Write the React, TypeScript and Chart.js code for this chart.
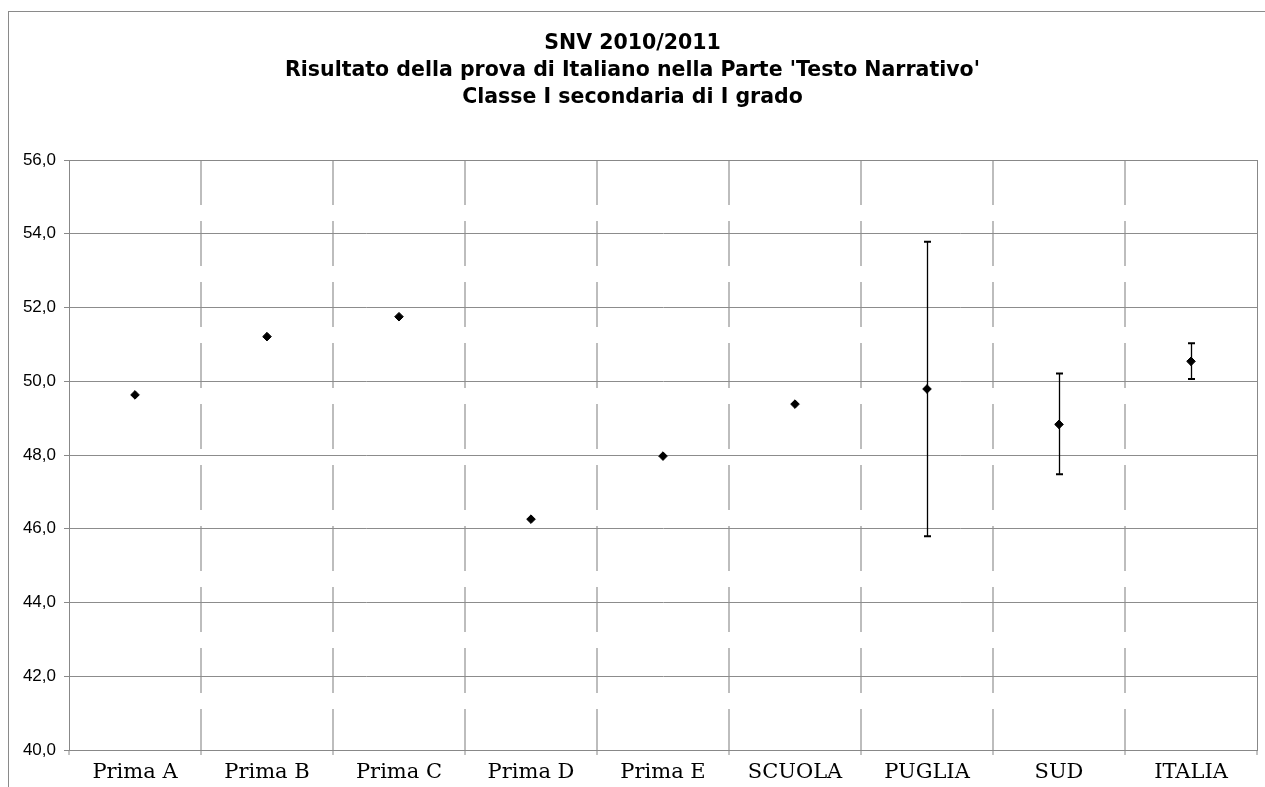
import React, { useEffect, useRef } from "react";
import { Chart, registerables } from "chart.js";

Chart.register(...registerables);

const categories = ["Prima A", "Prima B", "Prima C", "Prima D", "Prima E", "SCUOLA", "PUGLIA", "SUD", "ITALIA"];
const means = [49.63, 51.21, 51.75, 46.26, 47.97, 49.38, 49.79, 48.83, 50.54];
const errLow: (number | null)[] = [null, null, null, null, null, null, 45.8, 47.48, 50.06];
const errHigh: (number | null)[] = [null, null, null, null, null, null, 53.78, 50.21, 51.03];
const titleLines = [
  "SNV 2010/2011",
  "Risultato della prova di Italiano nella Parte 'Testo Narrativo'",
  "Classe I secondaria di I grado",
];
const yMin = 40;
const yMax = 56;
const yStep = 2;

const frameAndErrors = {
  id: "frameAndErrors",
  beforeDraw(chart: any) {
    const ctx = chart.ctx;
    ctx.save();
    ctx.strokeStyle = "#8a8a8a";
    ctx.lineWidth = 1;
    ctx.strokeRect(8.5, 11.5, 1270, 800);
    ctx.restore();
  },
  beforeDatasetsDraw(chart: any) {
    const ctx = chart.ctx;
    const xs = chart.scales.x;
    const ys = chart.scales.y;
    const a = chart.chartArea;
    ctx.save();
    ctx.strokeStyle = "#888888";
    ctx.lineWidth = 1;
    ctx.strokeRect(Math.round(a.left) + 0.5, Math.round(a.top) + 0.5, Math.round(a.right - a.left), Math.round(a.bottom - a.top));
    ctx.strokeStyle = "#000";
    for (let i = 0; i < categories.length; i++) {
      const lo = errLow[i];
      const hi = errHigh[i];
      if (lo == null || hi == null) continue;
      const x = Math.round(xs.getPixelForValue(i)) + 0.5;
      const yl = ys.getPixelForValue(lo);
      const yh = ys.getPixelForValue(hi);
      ctx.lineWidth = 1.3;
      ctx.beginPath();
      ctx.moveTo(x, yh);
      ctx.lineTo(x, yl);
      ctx.stroke();
      ctx.lineWidth = 2;
      ctx.beginPath();
      ctx.moveTo(x - 3.5, yh);
      ctx.lineTo(x + 3.5, yh);
      ctx.moveTo(x - 3.5, yl);
      ctx.lineTo(x + 3.5, yl);
      ctx.stroke();
    }
    ctx.restore();
  },
};

export default function App() {
  const ref = useRef<HTMLCanvasElement | null>(null);
  useEffect(() => {
    if (!ref.current) return;
    const chart = new Chart(ref.current, {
      type: "line",
      data: {
        labels: categories,
        datasets: [
          {
            data: means,
            showLine: false,
            pointStyle: "rectRot",
            pointRadius: 4.3,
            pointBorderWidth: 1,
            pointBackgroundColor: "#000",
            pointBorderColor: "#000",
          },
        ],
      },
      options: {
        animation: false,
        responsive: false,
        devicePixelRatio: 1,
        layout: { padding: { left: 8, right: 8, top: 0, bottom: 0 } },
        plugins: {
          legend: { display: false },
          tooltip: { enabled: false },
          title: {
            display: true,
            text: titleLines,
            color: "#000",
            font: { family: '"DejaVu Sans", "Liberation Sans", Arial, sans-serif', size: 20.5, weight: "bold", lineHeight: "27px" },
            padding: { top: 30, bottom: 49 },
          },
        },
        scales: {
          x: {
            type: "category",
            offset: true,
            grid: {
              offset: true,
              color: (c: any) =>
                c.index === undefined || c.index === 0 || c.index >= categories.length ? "rgba(0,0,0,0)" : "#bdbdbd",
              lineWidth: 2,
              tickColor: "#888",
              tickBorderDash: [],
              tickWidth: 1,
              tickLength: 5,
            },
            border: { display: true, color: "#888", width: 1, dash: [45, 16] },
            ticks: {
              color: "#000",
              font: { family: '"DejaVu Serif", "Liberation Serif", serif', size: 21 },
              padding: 5,
              maxRotation: 0,
              autoSkip: false,
            },
            afterFit(scale: any) {
              scale.height = 37;
            },
          },
          y: {
            min: yMin,
            max: yMax,
            grid: { color: "#8c8c8c", lineWidth: 1, tickLength: 5, tickColor: "#888" },
            border: { display: true, color: "#888", width: 1 },
            ticks: {
              stepSize: yStep,
              color: "#000",
              padding: 8,
              font: { family: '"Liberation Sans", Arial, sans-serif', size: 17 },
              callback: (v: any) => Number(v).toFixed(1).replace(".", ","),
            },
            afterFit(scale: any) {
              scale.width = 61;
            },
          },
        },
      },
      plugins: [frameAndErrors],
    });
    return () => chart.destroy();
  }, []);
  return (
    <div style={{ position: "absolute", left: 0, top: 0, width: 1265, height: 787, background: "#fff" }}>
      <canvas ref={ref} width={1265} height={787} style={{ display: "block" }} />
    </div>
  );
}
